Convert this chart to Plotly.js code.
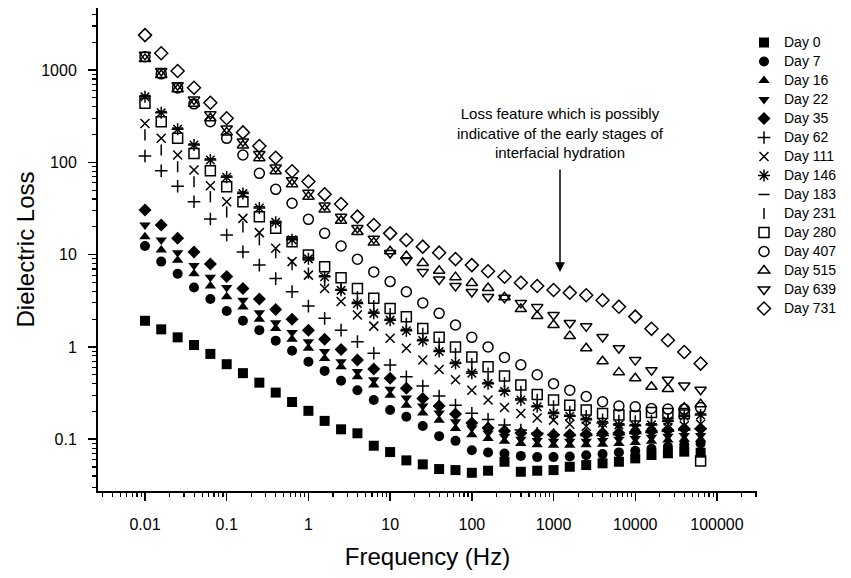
<!DOCTYPE html>
<html>
<head>
<meta charset="utf-8">
<script src="https://cdn.plot.ly/plotly-3.0.1.min.js"></script>
<style>html,body{margin:0;padding:0;background:#fff;}#chart{width:851px;height:578px;}</style>
</head>
<body>
<div id="chart"></div>
<script>
// Frequency (Hz), 5 points per decade
const freq = [0.01, 0.0158, 0.0251, 0.0398, 0.0631, 0.1, 0.158, 0.251, 0.398, 0.631,
  1, 1.58, 2.51, 3.98, 6.31, 10, 15.8, 25.1, 39.8, 63.1,
  100, 158, 251, 398, 631, 1000, 1580, 2510, 3980, 6310,
  10000, 15800, 25100, 39800, 63100];

const day0 = [1.92, 1.55, 1.27, 1.05, 0.84, 0.65, 0.52, 0.41, 0.32, 0.253, 0.203, 0.158, 0.128, 0.116, 0.085, 0.0726, 0.059, 0.0534, 0.0475, 0.0463, 0.0433, 0.0456, 0.057, 0.0444, 0.0456, 0.0463, 0.0503, 0.0525, 0.0548, 0.057, 0.062, 0.0675, 0.0704, 0.0733, 0.0715];
const day7 = [12.4, 8.4, 6.2, 4.4, 3.3, 2.45, 1.92, 1.52, 1.17, 0.91, 0.69, 0.55, 0.43, 0.34, 0.266, 0.207, 0.175, 0.139, 0.108, 0.096, 0.076, 0.072, 0.07, 0.066, 0.064, 0.064, 0.065, 0.067, 0.069, 0.072, 0.075, 0.079, 0.083, 0.087, 0.09];
const day16 = [15.6, 11.2, 8.7, 6.2, 4.57, 3.5, 2.7, 2.0, 1.58, 1.21, 0.97, 0.75, 0.61, 0.475, 0.386, 0.3, 0.234, 0.192, 0.161, 0.131, 0.112, 0.102, 0.095, 0.09, 0.087, 0.086, 0.086, 0.087, 0.088, 0.09, 0.092, 0.095, 0.098, 0.1, 0.1];
const day22 = [20.9, 14.4, 10.5, 7.6, 5.7, 4.4, 3.2, 2.35, 1.83, 1.43, 1.14, 0.89, 0.69, 0.54, 0.44, 0.347, 0.279, 0.229, 0.192, 0.155, 0.132, 0.117, 0.107, 0.1, 0.097, 0.095, 0.095, 0.095, 0.097, 0.1, 0.102, 0.105, 0.108, 0.11, 0.11];
const day35 = [30.4, 20.9, 15.0, 10.7, 7.9, 5.8, 4.3, 3.3, 2.55, 2.0, 1.52, 1.21, 0.94, 0.72, 0.575, 0.457, 0.356, 0.277, 0.229, 0.188, 0.15, 0.132, 0.123, 0.117, 0.114, 0.112, 0.112, 0.113, 0.115, 0.117, 0.12, 0.123, 0.126, 0.13, 0.13];
const day62 = [117, 81, 55, 37.4, 24.3, 16.3, 10.7, 7.7, 5.5, 3.97, 2.77, 2.04, 1.52, 1.14, 0.853, 0.637, 0.476, 0.377, 0.294, 0.234, 0.191, 0.164, 0.143, 0.126, 0.116, 0.112, 0.11, 0.11, 0.11, 0.112, 0.115, 0.118, 0.122, 0.126, 0.13];
const day111 = [264, 182, 120, 82.6, 55.8, 37.4, 24.7, 17.3, 11.7, 8.4, 6.0, 4.3, 3.1, 2.22, 1.68, 1.24, 0.966, 0.72, 0.57, 0.44, 0.34, 0.266, 0.221, 0.19, 0.17, 0.161, 0.145, 0.138, 0.133, 0.13, 0.13, 0.132, 0.135, 0.14, 0.145];
const day146 = [514, 344, 228, 154, 106, 69, 46, 32, 22.4, 14.5, 9.0, 5.75, 4.1, 2.95, 2.31, 1.95, 1.5, 1.17, 0.89, 0.66, 0.52, 0.40, 0.33, 0.266, 0.225, 0.19, 0.177, 0.163, 0.15, 0.143, 0.14, 0.143, 0.157, 0.177, 0.183];
const day183 = [530, 355, 235, 158, 109, 71, 47.5, 33, 23, 15, 9.3, 5.9, 4.2, 3.05, 2.38, 2.0, 1.55, 1.2, 0.92, 0.68, 0.54, 0.41, 0.34, 0.275, 0.23, 0.196, 0.182, 0.168, 0.155, 0.147, 0.144, 0.147, 0.161, 0.182, 0.188];
const day231 = [198, 136, 89.6, 61.6, 42.4, 29, 20, 14.5, 10.5, 7.8, 6.3, 5.2, 4.3, 3.5, 2.8, 2.3, 1.8, 1.4, 1.1, 0.85, 0.66, 0.52, 0.41, 0.33, 0.27, 0.23, 0.2, 0.18, 0.165, 0.16, 0.158, 0.16, 0.165, 0.17, 0.175];
const day280 = [436, 275, 182, 125, 81, 54.5, 37.4, 25.8, 19.3, 13.8, 9.9, 7.4, 5.6, 4.3, 3.37, 2.6, 2.12, 1.58, 1.27, 1.0, 0.78, 0.61, 0.485, 0.387, 0.306, 0.266, 0.234, 0.207, 0.19, 0.183, 0.178, 0.195, 0.19, 0.19, 0.058];
const day407 = [1393, 910, 640, 430, 275, 182, 120, 76, 51, 36, 24.1, 17, 12.4, 8.9, 6.5, 5.1, 3.96, 3.0, 2.31, 1.73, 1.27, 1.0, 0.77, 0.64, 0.5, 0.40, 0.34, 0.29, 0.255, 0.229, 0.225, 0.215, 0.212, 0.212, 0.22];
const day515 = [1320, 885, 618, 432, 300, 211, 152, 111, 80, 58, 42.3, 30.9, 23.3, 17.6, 13.5, 10.9, 9.66, 8.1, 6.7, 5.7, 4.92, 4.35, 3.45, 2.57, 2.16, 1.73, 1.31, 0.966, 0.70, 0.53, 0.457, 0.37, 0.35, 0.22, 0.24];
const day639 = [1460, 975, 683, 478, 331, 233, 168, 123, 88, 64, 46.7, 34.1, 25.7, 19.4, 14.9, 10.4, 8.7, 6.5, 5.37, 4.57, 3.93, 3.47, 3.4, 3.0, 2.7, 2.22, 1.82, 1.67, 1.28, 0.966, 0.72, 0.56, 0.44, 0.382, 0.344];
const day731 = [2390, 1520, 975, 643, 442, 300, 211, 150, 112, 80, 62, 45, 35.3, 25.8, 20.9, 17, 14.4, 12.2, 10.5, 8.95, 7.7, 6.6, 5.75, 4.95, 4.57, 4.14, 3.87, 3.63, 3.2, 2.73, 2.13, 1.57, 1.18, 0.88, 0.66];

const seriesNames = ['Day 0','Day 7','Day 16','Day 22','Day 35','Day 62','Day 111','Day 146','Day 183','Day 231','Day 280','Day 407','Day 515','Day 639','Day 731'];
const seriesValues = [day0, day7, day16, day22, day35, day62, day111, day146, day183, day231, day280, day407, day515, day639, day731];
const symbols = ['square','circle','triangle-up','triangle-down','diamond','cross-thin-open','x-thin-open','asterisk-open','line-ew-open','line-ns-open','square-open','circle-open','triangle-up-open','triangle-down-open','diamond-open'];
const sizes = [10, 10, 10, 10, 10, 9, 9, 10, 8, 8, 10, 10, 10, 10, 10];

const xTickVals = [0.01, 0.1, 1, 10, 100, 1000, 10000, 100000];
const xTickText = ['0.01', '0.1', '1', '10', '100', '1000', '10000', '100000'];
const yTickVals = [0.1, 1, 10, 100, 1000];
const yTickText = ['0.1', '1', '10', '100', '1000'];

const traces = seriesNames.map((name, k) => {
  const open = symbols[k].indexOf('open') >= 0;
  return {
    type: 'scatter', mode: 'markers', name: '<span style="font-size:14px">' + name + '</span>',
    x: freq, y: seriesValues[k],
    marker: {
      symbol: symbols[k], size: sizes[k], color: 'black',
      line: {color: 'black', width: open ? 1.5 : 0}
    },
    hoverinfo: 'skip', cliponaxis: false
  };
});

const W = 851, H = 578, L = 98, R = 94, T = 8, B = 87;
const pw = W - L - R, ph = H - T - B;
const px2paperX = p => (p - L) / pw;
const px2paperY = p => (H - B - p) / ph;

const layout = {
  width: W, height: H,
  margin: {l: L, r: R, t: T, b: B, pad: 0},
  paper_bgcolor: 'white', plot_bgcolor: 'white',
  font: {family: 'Liberation Sans, Arial, sans-serif', color: 'black', size: 16},
  showlegend: true,
  legend: {
    x: px2paperX(744), xanchor: 'left', y: px2paperY(28), yanchor: 'top',
    font: {size: 11, family: 'Liberation Sans, Arial, sans-serif'},
    bgcolor: 'rgba(0,0,0,0)', borderwidth: 0, tracegroupgap: 0, itemclick: false
  },
  xaxis: {
    type: 'log', range: [-2.575, 5.49], autorange: false,
    tickmode: 'array', tickvals: xTickVals, ticktext: xTickText,
    ticks: 'outside', ticklen: 8, tickwidth: 1.5, tickcolor: 'black',
    minor: {dtick: 'D1', ticks: 'outside', ticklen: 4, tickwidth: 1.2, tickcolor: 'black', showgrid: false},
    showline: true, linecolor: 'black', linewidth: 2, mirror: false,
    showgrid: false, zeroline: false, automargin: false,
    tickfont: {size: 16}, ticklabelstandoff: 10,
    title: {text: 'Frequency (Hz)', font: {size: 24}, standoff: 16}
  },
  yaxis: {
    type: 'log', range: [-1.561, 3.672], autorange: false,
    tickmode: 'array', tickvals: yTickVals, ticktext: yTickText,
    ticks: 'outside', ticklen: 8, tickwidth: 1.5, tickcolor: 'black',
    minor: {dtick: 'D1', ticks: 'outside', ticklen: 4, tickwidth: 1.2, tickcolor: 'black', showgrid: false},
    showline: true, linecolor: 'black', linewidth: 2, mirror: false,
    showgrid: false, zeroline: false, automargin: false,
    tickfont: {size: 16}, ticklabelstandoff: 8,
    title: {text: 'Dielectric Loss', font: {size: 24}, standoff: 0}
  },
  annotations: [
    {
      xref: 'paper', yref: 'paper', x: px2paperX(560), y: px2paperY(133),
      xanchor: 'center', yanchor: 'middle', showarrow: false, align: 'center',
      text: 'Loss feature which is possibly<br>indicative of the early stages of<br>interfacial hydration',
      font: {size: 15, color: 'black'}
    },
    {
      xref: 'paper', yref: 'paper', x: px2paperX(560), y: px2paperY(272),
      axref: 'pixel', ayref: 'pixel', ax: 0, ay: -104, text: '',
      showarrow: true, arrowhead: 2, arrowsize: 1.3, arrowwidth: 1.5, arrowcolor: 'black'
    }
  ]
};

Plotly.newPlot('chart', traces, layout, {staticPlot: true, displayModeBar: false});
</script>
</body>
</html>
